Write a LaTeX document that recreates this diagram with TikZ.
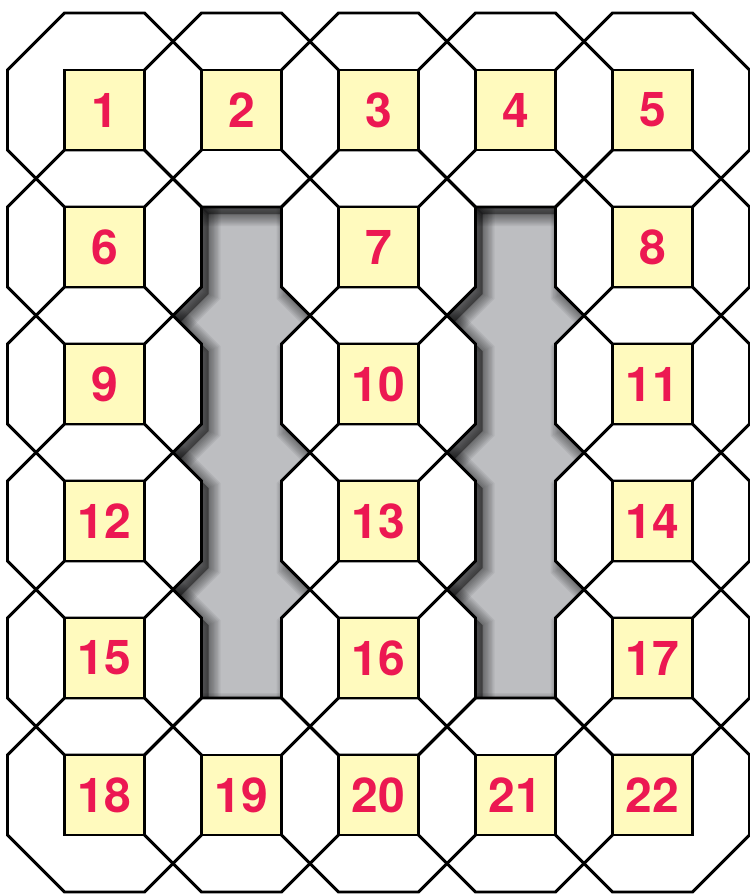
\documentclass[tikz,border=0pt]{standalone}
\usepackage{fontspec}
\setmainfont{TeX Gyre Heros}
\usepackage{xcolor}
\definecolor{cellfill}{RGB}{255,250,190}
\definecolor{labelred}{RGB}{236,24,82}
\definecolor{holegray}{RGB}{189,190,193}
\tikzset{
  octagon/.style = {insert path={++(-40,-97) -- ++(80,0) -- ++(57,57) -- ++(0,80)
                    -- ++(-57,57) -- ++(-80,0) -- ++(-57,-57) -- ++(0,-80) -- cycle}},
  octfill/.style = {fill=white},
  octline/.style = {draw=black, line width=2.2pt, line join=miter},
  shadowlayer/.style = {fill=black, draw=black, opacity=0.055},
  cell/.style    = {draw=black, line width=2.2pt, fill=cellfill, minimum size=60pt,
                    inner sep=0pt, font=\fontsize{36}{36}\selectfont\bfseries,
                    text=labelred},
}
% number / column / row
\newcommand\celllist{1/1/1, 2/2/1, 3/3/1, 4/4/1, 5/5/1,
  6/1/2, 7/3/2, 8/5/2, 9/1/3, 10/3/3, 11/5/3, 12/1/4, 13/3/4, 14/5/4,
  15/1/5, 16/3/5, 17/5/5, 18/1/6, 19/2/6, 20/3/6, 21/4/6, 22/5/6}

\begin{document}
\begin{tikzpicture}[x=0.75pt, y=-0.75pt]
  \useasboundingbox (0,0) rectangle (750,894);
  % holes where cells are missing
  \begin{scope}
    \clip (172.5,178.5) rectangle (310.5,726.5)
          (446.5,178.5) rectangle (584.5,726.5);
    \fill[holegray] (0,0) rectangle (750,894);
    % soft shadow of the tiles
    \foreach \w in {2,4,...,18} {
      \foreach \n/\c/\r in \celllist {
        \path[shadowlayer, line width=\w pt]
          ({111.5+137*(\c-1)}, {117+137*(\r-1)}) [octagon];
      }
    }
  \end{scope}
  % octagons: fill first, then outlines
  \foreach \n/\c/\r in \celllist {
    \path[octfill] ({104.5+137*(\c-1)}, {110+137*(\r-1)}) [octagon];
  }
  \foreach \n/\c/\r in \celllist {
    \path[octline] ({104.5+137*(\c-1)}, {110+137*(\r-1)}) [octagon];
  }
  % numbered cells
  \foreach \n/\c/\r in \celllist {
    \node[cell] (c\n) at ({104.5+137*(\c-1)}, {110+137*(\r-1)}) {\n};
  }
\end{tikzpicture}
\end{document}
